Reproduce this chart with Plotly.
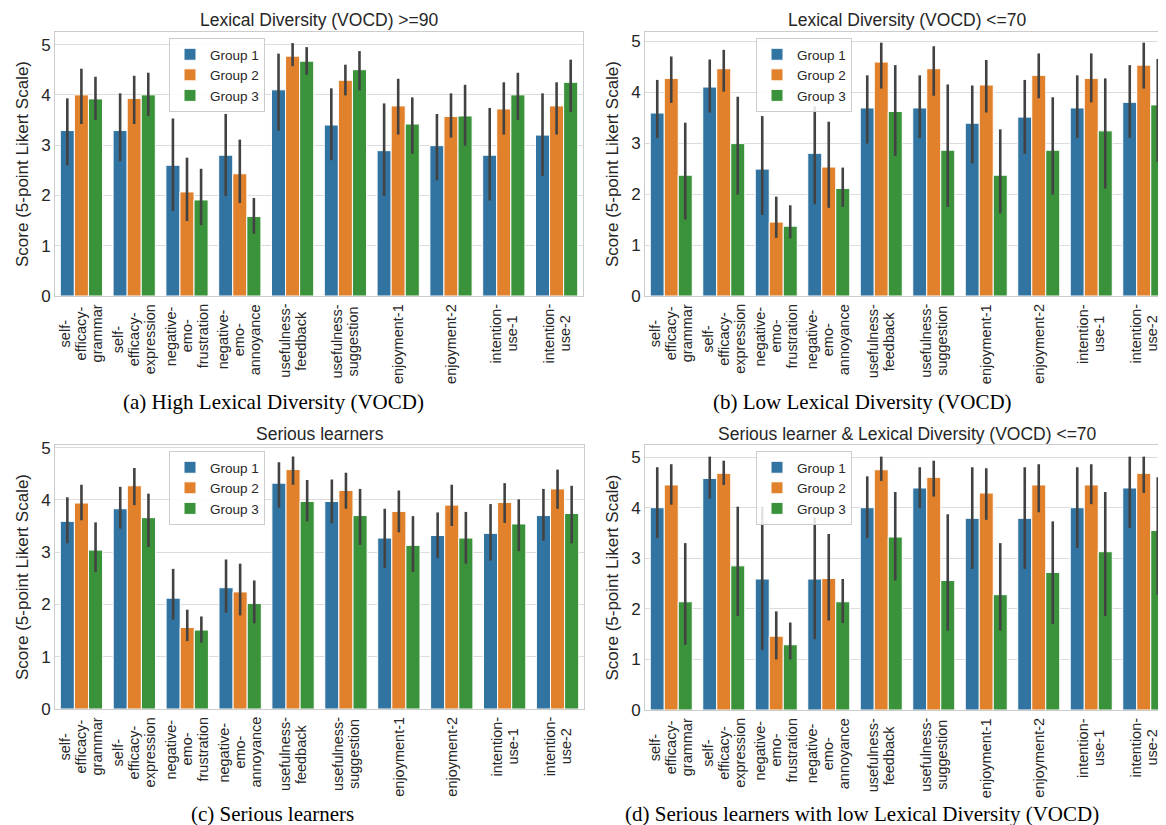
import plotly.graph_objects as go

W, H = 1166, 825

categories = [
    "self-efficacy-grammar", "self-efficacy-expression",
    "negative-emo-frustration", "negative-emo-annoyance",
    "usefulness-feedback", "usefulness-suggestion",
    "enjoyment-1", "enjoyment-2", "intention-use-1", "intention-use-2",
]
category_lines = [
    ["self-", "efficacy-", "grammar"], ["self-", "efficacy-", "expression"],
    ["negative-", "emo-", "frustration"], ["negative-", "emo-", "annoyance"],
    ["usefulness-", "feedback"], ["usefulness-", "suggestion"],
    ["enjoyment-1"], ["enjoyment-2"], ["intention-", "use-1"], ["intention-", "use-2"],
]
groups = ["Group 1", "Group 2", "Group 3"]
colors = ["#3274a1", "#e1812c", "#3a923a"]
y_ticks = [0, 1, 2, 3, 4, 5]

# Panel (a) High lexical diversity
a_g1_mean = [3.29, 3.29, 2.60, 2.80, 4.10, 3.40, 2.89, 2.99, 2.80, 3.20]
a_g1_lo = [2.60, 2.68, 1.69, 1.99, 3.29, 2.70, 1.99, 2.30, 1.90, 2.39]
a_g1_hi = [3.93, 4.03, 3.53, 3.62, 4.82, 4.13, 3.83, 3.62, 3.74, 4.03]
a_g2_mean = [4.00, 3.93, 2.07, 2.43, 4.77, 4.29, 3.78, 3.57, 3.72, 3.78]
a_g2_lo = [3.42, 3.42, 1.49, 1.85, 4.57, 3.99, 3.21, 3.15, 3.21, 3.21]
a_g2_hi = [4.52, 4.38, 2.75, 3.11, 5.03, 4.60, 4.32, 4.03, 4.25, 4.25]
a_g3_mean = [3.92, 4.00, 1.91, 1.58, 4.67, 4.50, 3.42, 3.58, 4.00, 4.25]
a_g3_lo = [3.50, 3.58, 1.41, 1.24, 4.40, 4.09, 2.83, 2.99, 3.50, 3.66]
a_g3_hi = [4.36, 4.44, 2.53, 1.95, 4.95, 4.87, 3.95, 4.20, 4.44, 4.70]

# Panel (b) Low lexical diversity
b_g1_mean = [3.59, 4.10, 2.49, 2.80, 3.69, 3.69, 3.39, 3.51, 3.69, 3.80]
b_g1_lo = [3.10, 3.60, 1.59, 1.80, 2.99, 3.10, 2.60, 2.79, 3.10, 3.10]
b_g1_hi = [4.24, 4.64, 3.53, 3.72, 4.33, 4.33, 4.13, 4.24, 4.33, 4.53]
b_g2_mean = [4.27, 4.46, 1.45, 2.53, 4.59, 4.46, 4.14, 4.33, 4.27, 4.53]
b_g2_lo = [3.79, 4.01, 1.14, 1.73, 4.07, 3.93, 3.60, 3.88, 3.80, 4.07]
b_g2_hi = [4.70, 4.83, 1.95, 3.42, 4.97, 4.90, 4.63, 4.76, 4.76, 4.97]
b_g3_mean = [2.37, 2.99, 1.37, 2.11, 3.62, 2.86, 2.37, 2.86, 3.24, 3.75]
b_g3_lo = [1.50, 1.99, 1.13, 1.75, 2.75, 1.75, 1.62, 1.99, 2.11, 2.63]
b_g3_hi = [3.40, 3.91, 1.78, 2.52, 4.53, 4.15, 3.27, 3.90, 4.27, 4.65]

# Panel (c) Serious learners
c_g1_mean = [3.59, 3.83, 2.12, 2.32, 4.32, 3.97, 3.27, 3.32, 3.36, 3.70]
c_g1_lo = [3.17, 3.45, 1.71, 1.84, 3.85, 3.55, 2.70, 2.89, 2.84, 3.22]
c_g1_hi = [4.05, 4.25, 2.68, 2.86, 4.72, 4.39, 3.83, 3.76, 3.92, 4.21]
c_g2_mean = [3.94, 4.27, 1.56, 2.24, 4.58, 4.18, 3.78, 3.90, 3.95, 4.21]
c_g2_lo = [3.61, 3.90, 1.30, 1.79, 4.29, 3.83, 3.38, 3.50, 3.56, 3.83]
c_g2_hi = [4.29, 4.61, 1.90, 2.78, 4.83, 4.52, 4.18, 4.29, 4.32, 4.58]
c_g3_mean = [3.04, 3.66, 1.51, 2.02, 3.97, 3.70, 3.13, 3.27, 3.54, 3.74]
c_g3_lo = [2.62, 3.10, 1.27, 1.64, 3.59, 3.14, 2.62, 2.78, 3.02, 3.17]
c_g3_hi = [3.57, 4.12, 1.77, 2.46, 4.38, 4.21, 3.69, 3.77, 4.01, 4.27]

# Panel (d) Serious learners with low lexical diversity
d_g1_mean = [4.00, 4.58, 2.59, 2.59, 4.00, 4.39, 3.79, 3.79, 4.00, 4.39]
d_g1_lo = [3.40, 4.18, 1.19, 1.40, 3.40, 3.99, 2.79, 2.79, 3.20, 3.60]
d_g1_hi = [4.80, 5.01, 4.02, 3.81, 4.62, 4.80, 4.80, 4.80, 4.80, 5.01]
d_g2_mean = [4.45, 4.68, 1.46, 2.60, 4.75, 4.60, 4.29, 4.45, 4.45, 4.68]
d_g2_lo = [4.06, 4.45, 1.00, 1.77, 4.53, 4.22, 3.76, 3.91, 4.07, 4.29]
d_g2_hi = [4.86, 4.93, 1.95, 3.48, 5.01, 4.93, 4.78, 4.86, 4.86, 5.01]
d_g3_mean = [2.14, 2.85, 1.29, 2.14, 3.42, 2.56, 2.28, 2.72, 3.13, 3.55]
d_g3_lo = [1.29, 1.86, 1.00, 1.72, 2.56, 1.57, 1.57, 1.70, 1.86, 2.28]
d_g3_hi = [3.30, 4.02, 1.73, 2.59, 4.31, 3.87, 3.30, 3.73, 4.31, 4.60]

titles = [
    "Lexical Diversity (VOCD) >=90",
    "Lexical Diversity (VOCD) <=70",
    "Serious learners",
    "Serious learner &amp; Lexical Diversity (VOCD) <=70",
]
captions = [
    "(a) High Lexical Diversity (VOCD)",
    "(b) Low Lexical Diversity (VOCD)",
    "(c) Serious learners",
    "(d) Serious learners with low Lexical Diversity (VOCD)",
]

panels = [
    dict(mean=[a_g1_mean, a_g2_mean, a_g3_mean], lo=[a_g1_lo, a_g2_lo, a_g3_lo], hi=[a_g1_hi, a_g2_hi, a_g3_hi],
         xd=(47, 575), yd=(24, 288), ymax=5.25, leg=(161, 30), cap=(265, 394), tit=12.5),
    dict(mean=[b_g1_mean, b_g2_mean, b_g3_mean], lo=[b_g1_lo, b_g2_lo, b_g3_lo], hi=[b_g1_hi, b_g2_hi, b_g3_hi],
         xd=(637, 1162), yd=(24, 288), ymax=5.18, leg=(748, 30), cap=(854, 394), tit=12.5),
    dict(mean=[c_g1_mean, c_g2_mean, c_g3_mean], lo=[c_g1_lo, c_g2_lo, c_g3_lo], hi=[c_g1_hi, c_g2_hi, c_g3_hi],
         xd=(47, 576), yd=(437, 701), ymax=5.05, leg=(161, 443), cap=(264, 806), tit=426),
    dict(mean=[d_g1_mean, d_g2_mean, d_g3_mean], lo=[d_g1_lo, d_g2_lo, d_g3_lo], hi=[d_g1_hi, d_g2_hi, d_g3_hi],
         xd=(637, 1162), yd=(437, 702), ymax=5.24, leg=(748, 443), cap=(854, 806), tit=426),
]

FONT = "Liberation Sans, Arial, sans-serif"
TXT = "#262626"
TICK_FS = 14.5
LINE_GAP = 16

# approximate Arial advance widths (per em) used to centre the stacked label lines
_W = dict(zip("abcdefghijklmnopqrstuvwxyz",
              [.556, .556, .5, .556, .556, .278, .556, .556, .222, .222, .5, .222, .833,
               .556, .556, .556, .556, .333, .5, .278, .556, .5, .722, .5, .5, .5]))
_W.update({"-": .333, "1": .556, "2": .556})


def text_len(s):
    return sum(_W.get(ch, .556) for ch in s) * TICK_FS


fig = go.Figure()
layout = dict(
    width=W, height=H,
    margin=dict(l=0, r=0, t=0, b=0),
    paper_bgcolor="white", plot_bgcolor="white",
    barmode="group", bargap=0.2, bargroupgap=0,
    font=dict(family=FONT, color=TXT),
    annotations=[],
)

for i, p in enumerate(panels):
    n = "" if i == 0 else str(i + 1)
    xa, ya = "x" + n, "y" + n
    legname = "legend" + n
    for g in range(3):
        m = p["mean"][g]
        up = [h - v for h, v in zip(p["hi"][g], m)]
        dn = [v - l for v, l in zip(m, p["lo"][g])]
        fig.add_trace(go.Bar(
            x=categories, y=m, name=groups[g], xaxis=xa, yaxis=ya, legend=legname,
            marker=dict(color=colors[g], line=dict(color="white", width=1)),
            error_y=dict(type="data", symmetric=False, array=up, arrayminus=dn,
                         color="#424242", thickness=2.6, width=0),
            showlegend=True,
        ))
    x0, x1 = p["xd"]
    yt, yb = p["yd"]
    layout["xaxis" + n] = dict(
        domain=[x0 / W, x1 / W], anchor=ya, type="category", range=[-0.5, 9.5],
        showgrid=False, showline=True, linecolor="#cccccc", linewidth=1, mirror=True,
        ticks="", showticklabels=False,
        automargin=False, fixedrange=True,
    )
    layout["yaxis" + n] = dict(
        domain=[1 - yb / H, 1 - yt / H], anchor=xa, range=[0, p["ymax"]],
        tickvals=y_ticks, showgrid=True, gridcolor="#dcdcdc", gridwidth=1,
        zeroline=False, showline=True, linecolor="#cccccc", linewidth=1, mirror=True,
        ticks="", tickfont=dict(size=17, color=TXT, family=FONT),
        title=dict(text="Score (5-point Likert Scale)", font=dict(size=17, color=TXT, family=FONT), standoff=8),
        automargin=False, fixedrange=True,
    )
    # rotated, centre-aligned multi-line category labels
    for cat, lines in zip(categories, category_lines):
        block = max(text_len(s) for s in lines)
        yc = yb + 8 + block / 2
        k = len(lines)
        for j, s in enumerate(lines):
            layout["annotations"].append(dict(
                text=s, xref=xa, yref="paper", x=cat, y=1 - yc / H,
                xshift=(j - (k - 1) / 2) * LINE_GAP,
                xanchor="center", yanchor="middle", textangle=-90, showarrow=False,
                borderpad=0, font=dict(size=TICK_FS, color=TXT, family=FONT),
            ))
    lx, ly = p["leg"]
    layout[legname] = dict(
        x=lx / W, y=1 - ly / H, xanchor="left", yanchor="top",
        bgcolor="rgba(255,255,255,0.85)", bordercolor="#cccccc", borderwidth=1,
        font=dict(size=13.5, color=TXT, family=FONT), tracegroupgap=0,
        itemwidth=30,
    )
    layout["annotations"].append(dict(
        text=titles[i], xref="paper", yref="paper", x=(x0 + x1) / 2 / W, y=1 - p["tit"] / H,
        xanchor="center", yanchor="middle", showarrow=False, borderpad=0,
        font=dict(size=17.5, color=TXT, family=FONT),
    ))
    cx, cy = p["cap"]
    layout["annotations"].append(dict(
        text=captions[i], xref="paper", yref="paper", x=cx / W, y=1 - cy / H,
        xanchor="center", yanchor="middle", showarrow=False, borderpad=0,
        font=dict(size=21, color="black", family="Liberation Serif, Times New Roman, serif"),
    ))

fig.update_layout(**layout)
fig.write_html("out.html")
